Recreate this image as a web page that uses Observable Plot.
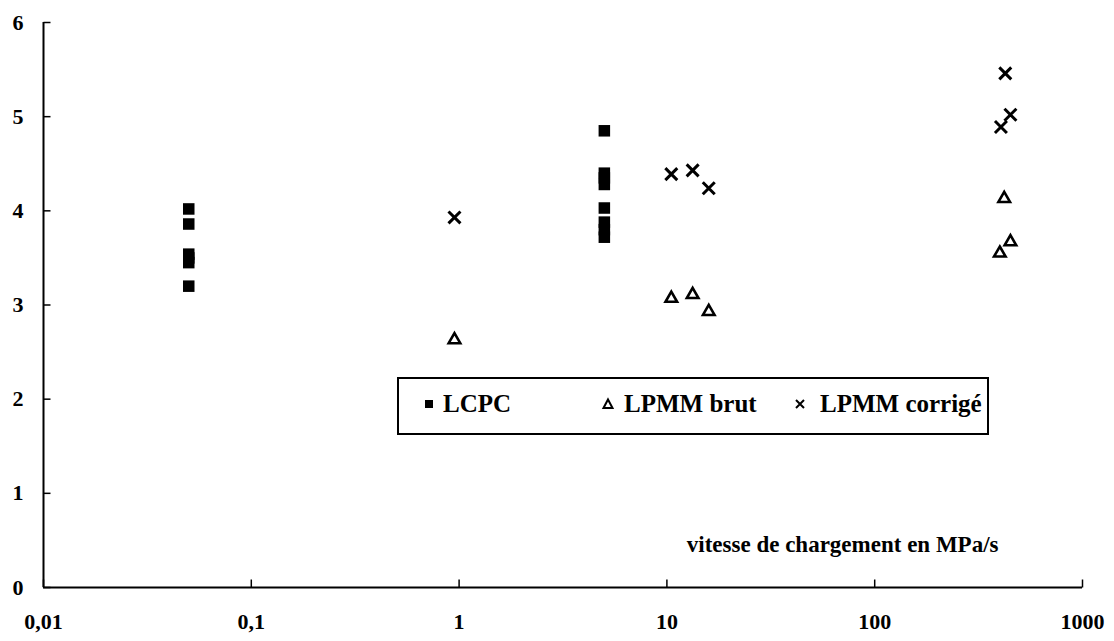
<!DOCTYPE html>
<html>
<head>
<meta charset="utf-8">
<script src="https://cdn.jsdelivr.net/npm/d3@7"></script>
<script src="https://cdn.jsdelivr.net/npm/@observablehq/plot@0.6"></script>
<style>
  html, body { margin: 0; padding: 0; background: #fff; }
  #wrap { position: relative; width: 1114px; height: 641px; }
  #legend { position: absolute; left: 397px; top: 377px; }
  #legend text { font-family: "Liberation Serif", "Times New Roman", serif; font-weight: bold; font-size: 25px; fill: #000; }
</style>
</head>
<body>
<div id="wrap"></div>
<script>
// ---- data ----
const lcpcX = [0.05, 0.05, 0.05, 0.05, 0.05, 0.05, 5, 5, 5, 5, 5, 5, 5, 5];
const lcpcY = [4.02, 3.86, 3.54, 3.5, 3.45, 3.2, 4.85, 4.4, 4.35, 4.28, 4.03, 3.88, 3.8, 3.72];
const brutX = [0.95, 10.5, 13.3, 15.9, 400, 420, 450];
const brutY = [2.63, 3.07, 3.11, 2.93, 3.55, 4.13, 3.67];
const corrX = [0.95, 10.5, 13.3, 15.9, 405, 425, 450];
const corrY = [3.93, 4.39, 4.43, 4.24, 4.89, 5.46, 5.02];
const xTicks = [0.01, 0.1, 1, 10, 100, 1000];
const xTickLabels = ["0,01", "0,1", "1", "10", "100", "1000"];
const yTicks = [0, 1, 2, 3, 4, 5, 6];
const xLabel = "vitesse de chargement en MPa/s";
const seriesNames = ["LCPC", "LPMM brut", "LPMM corrigé"];

const lcpc = lcpcX.map((x, i) => ({x, y: lcpcY[i]}));
const brut = brutX.map((x, i) => ({x, y: brutY[i]}));
const corr = corrX.map((x, i) => ({x, y: corrY[i]}));

const tickRight = {draw(ctx) { ctx.moveTo(0, 0); ctx.lineTo(7, 0); }};
const tickUp = {draw(ctx) { ctx.moveTo(0, 0); ctx.lineTo(0, -8); }};

const font = '"Liberation Serif", "Times New Roman", serif';

const chart = Plot.plot({
  width: 1114,
  height: 641,
  marginLeft: 43,
  marginRight: 32,
  marginTop: 22,
  marginBottom: 54,
  style: {fontFamily: font, fontSize: "22px", fontWeight: "bold", background: "#fff", color: "#000"},
  x: {type: "log", domain: [0.01, 1000], axis: null},
  y: {domain: [0, 6], axis: null},
  marks: [
    Plot.ruleX([0.01], {stroke: "#000", strokeWidth: 2}),
    Plot.ruleY([0], {stroke: "#000", strokeWidth: 2}),
    Plot.dot(yTicks, {y: d => d, frameAnchor: "left", symbol: tickRight, stroke: "#000", strokeWidth: 1.5, fill: "none"}),
    Plot.dot(xTicks, {x: d => d, frameAnchor: "bottom", symbol: tickUp, stroke: "#000", strokeWidth: 1.5, fill: "none"}),
    Plot.text(yTicks, {y: d => d, text: d => String(d), frameAnchor: "left", textAnchor: "end", dx: -20, fill: "#000"}),
    Plot.text(xTicks, {x: d => d, text: (d, i) => xTickLabels[i], frameAnchor: "bottom", dy: 41, fill: "#000"}),
    Plot.text([xLabel], {text: d => d, frameAnchor: "bottom-right", textAnchor: "end", dx: -84, dy: -36, fill: "#000", fontSize: 23}),
    Plot.dot(lcpc, {x: "x", y: "y", symbol: "square", r: 6.5, fill: "#000", stroke: "none"}),
    Plot.dot(brut, {x: "x", y: "y", symbol: "triangle", r: 4.3, fill: "#fff", stroke: "#000", strokeWidth: 2.6}),
    Plot.dot(corr, {x: "x", y: "y", symbol: "times", r: 5.5, stroke: "#000", strokeWidth: 3})
  ]
});
chart.querySelectorAll("text").forEach(t => t.style.fontFamily = font);
document.getElementById("wrap").appendChild(chart);

// legend (overlay inside the plot area)
const W = 592, H = 58, base = 35;
const symX = [32, 211, 403];
const textX = [46, 227, 423];
const lg = d3.select("#wrap").append("svg").attr("id", "legend").attr("width", W).attr("height", H);
lg.append("rect").attr("x", 1).attr("y", 1).attr("width", W - 2).attr("height", H - 2)
  .attr("fill", "#fff").attr("stroke", "#000").attr("stroke-width", 2);
const cy = base - 8;
lg.append("rect").attr("x", symX[0] - 4).attr("y", cy - 4).attr("width", 8).attr("height", 8).attr("fill", "#000");
lg.append("path").attr("d", `M${symX[1]},${cy - 4.5} L${symX[1] + 4.5},${cy + 4} L${symX[1] - 4.5},${cy + 4} Z`)
  .attr("fill", "none").attr("stroke", "#000").attr("stroke-width", 2);
lg.append("path").attr("d", `M${symX[2] - 4},${cy - 4} L${symX[2] + 4},${cy + 4} M${symX[2] + 4},${cy - 4} L${symX[2] - 4},${cy + 4}`)
  .attr("stroke", "#000").attr("stroke-width", 2);
seriesNames.forEach((name, i) => {
  lg.append("text").attr("x", textX[i]).attr("y", base).text(name);
});
</script>
</body>
</html>
